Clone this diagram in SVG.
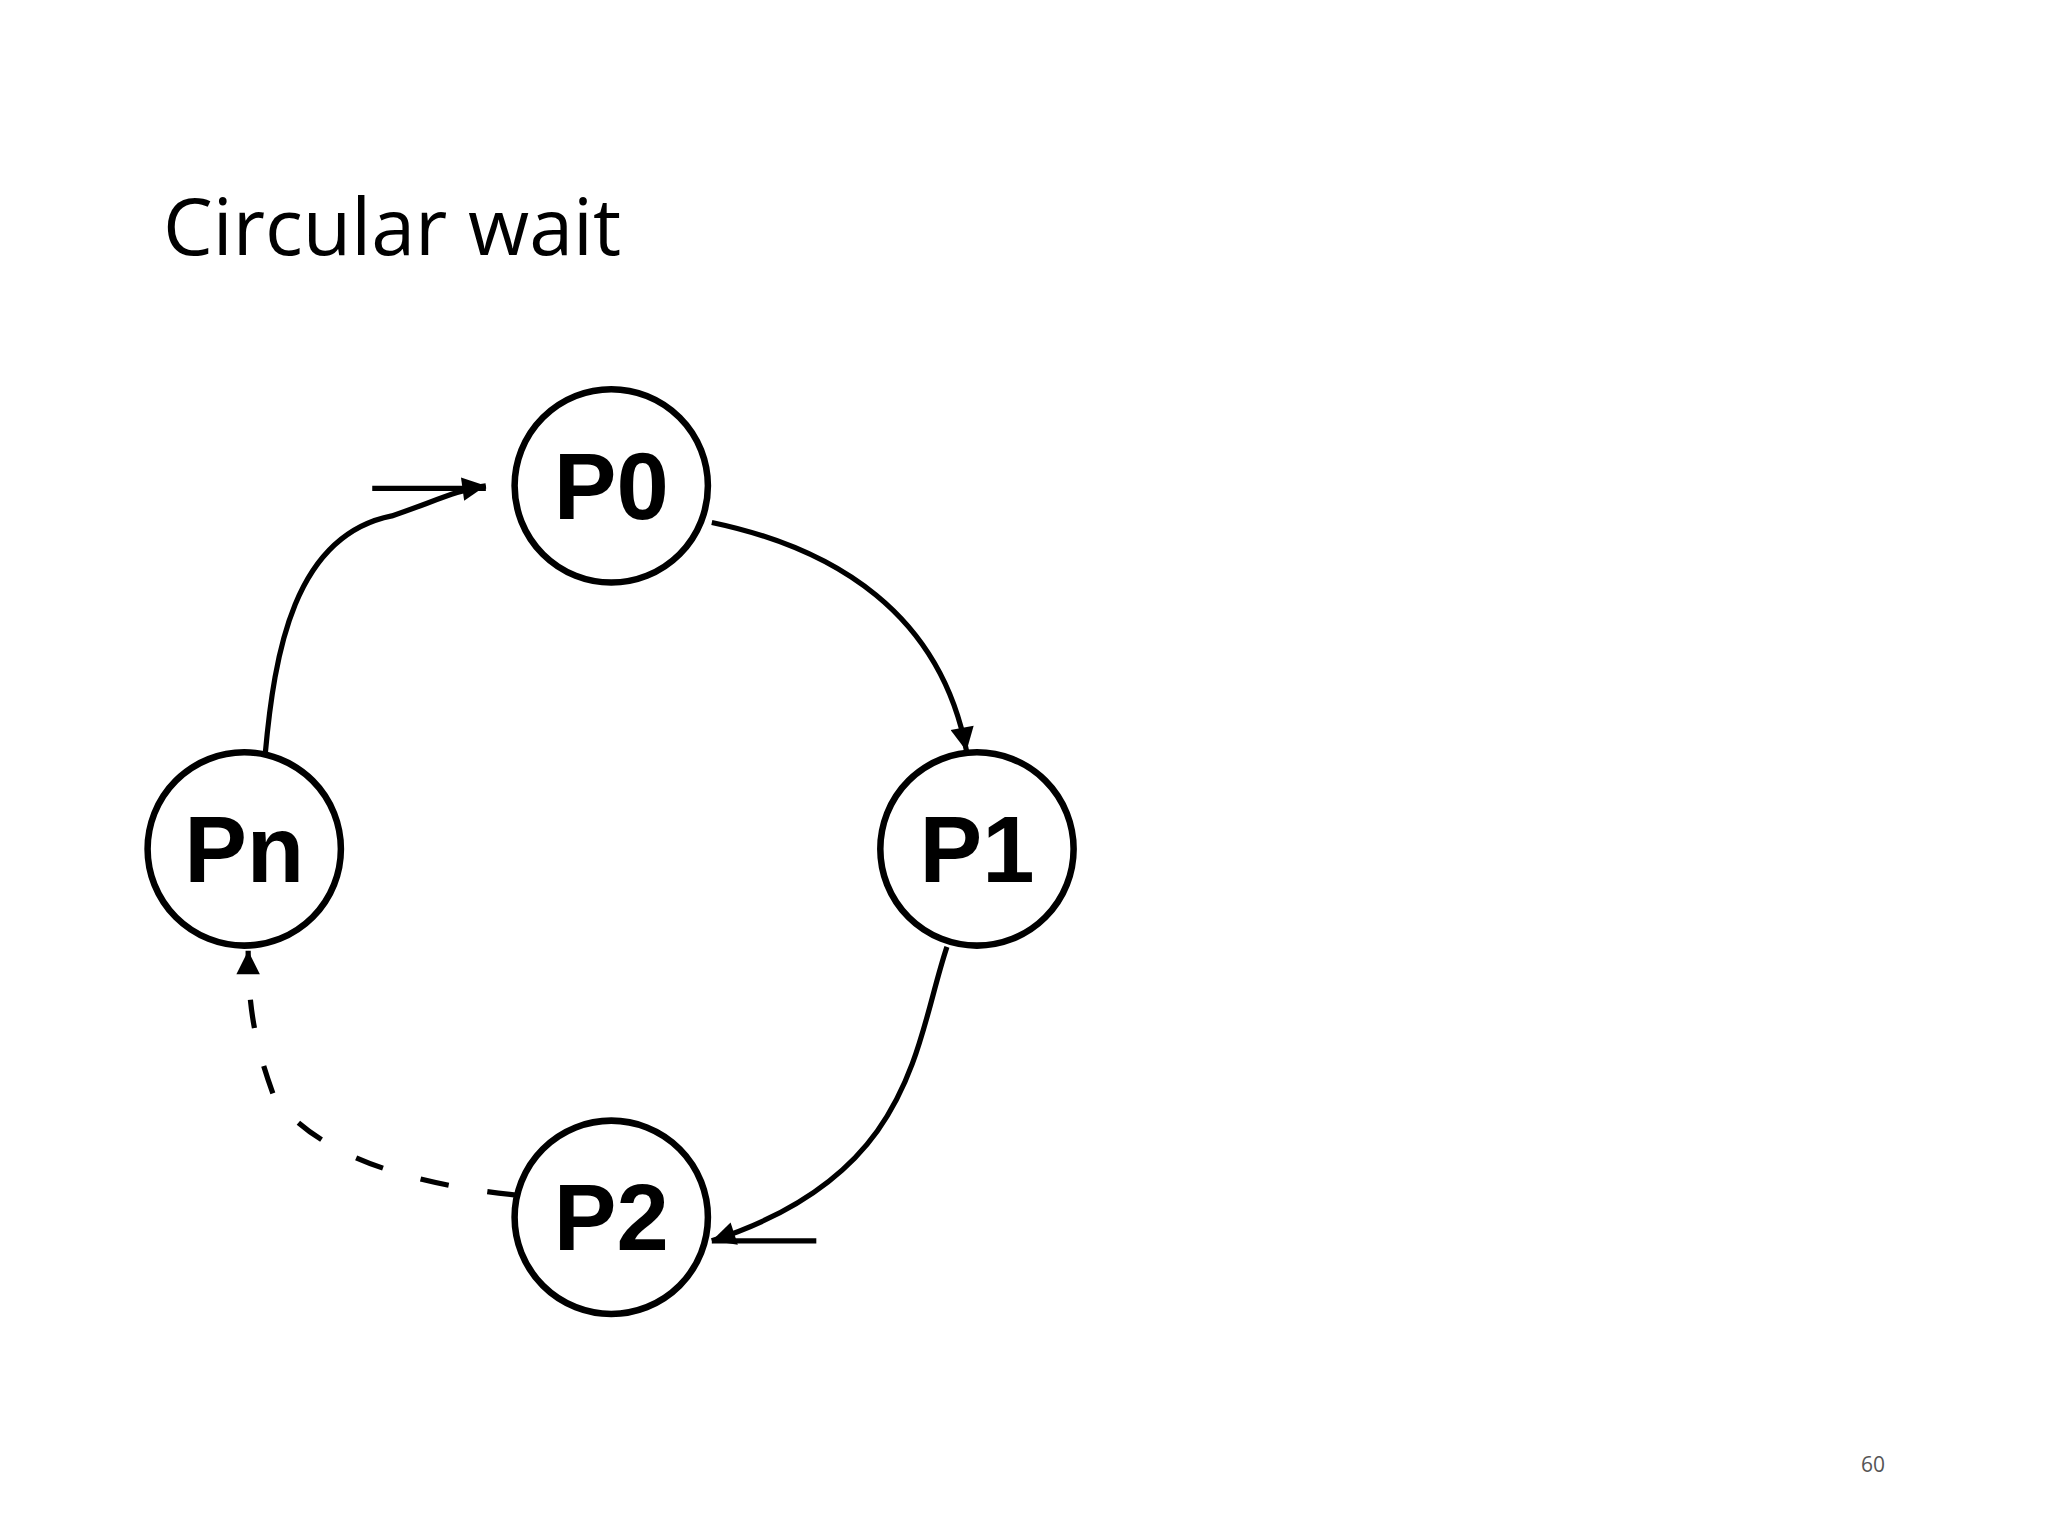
<svg xmlns="http://www.w3.org/2000/svg" width="2048" height="1536" viewBox="0 0 2048 1536">
<style>
.node circle{fill:none;stroke:#000;stroke-width:5}
.node text{font-family:"Liberation Sans",Arial,sans-serif;font-weight:bold;font-size:72px;text-anchor:middle}
.edge{fill:none;stroke:#000;stroke-width:4}
</style>
<defs>
<marker id="a" viewBox="0 0 10 10" refX="10" refY="5" markerWidth="24" markerHeight="18" orient="auto" markerUnits="userSpaceOnUse"><path d="M0,0 L10,5 L0,10 z" fill="#000"/></marker>
</defs>
<rect width="2048" height="1536" fill="#fff"/>
<text x="163" y="255" font-family="'Open Sans','Noto Sans',sans-serif" font-size="79" fill="#000">Circular wait</text>
<text x="1873" y="1472" font-family="'Open Sans','Noto Sans',sans-serif" font-size="21" fill="#555" text-anchor="middle">60</text>
<g transform="scale(1.3061)">
<g id="connectors">
<path class="edge" d="M203,578 C210,500 225,410 300,395 C330,385 350,375 372,372" marker-end="url(#a)"/>
<line class="edge" x1="285" y1="374" x2="372" y2="374" stroke-width="7"/>
<path class="edge" d="M545,400 C640,420 720,470 740,575" marker-end="url(#a)"/>
<path class="edge" d="M725,725 C700,800 700,900 545,950" marker-end="url(#a)"/>
<line class="edge" x1="545" y1="950" x2="625" y2="950" stroke-width="5"/>
<path class="edge" d="M395,915 C300,905 240,880 210,840 C195,800 190,770 190,728" stroke-dasharray="22,30" marker-end="url(#a)"/>
</g>
<g id="P0" class="node"><circle cx="468" cy="372" r="74"/><text x="468" y="397">P0</text></g>
<g id="P1" class="node"><circle cx="748" cy="650" r="74"/><text x="748" y="675">P1</text></g>
<g id="Pn" class="node"><circle cx="187" cy="650" r="74"/><text x="187" y="675">Pn</text></g>
<g id="P2" class="node"><circle cx="468" cy="932" r="74"/><text x="468" y="957">P2</text></g>
</g>
</svg>
